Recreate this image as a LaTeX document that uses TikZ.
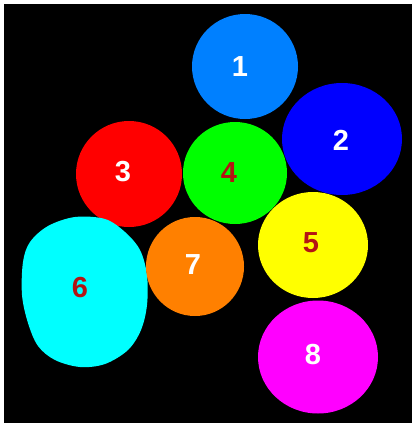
\documentclass[tikz,border=0pt]{standalone}
\usepackage{fontspec}
\setmainfont{Liberation Sans}
\usepackage{tikz}
\usetikzlibrary{shapes.geometric}
\usepackage{xcolor}
\definecolor{skyblue}{RGB}{0,128,255}
\definecolor{pureblue}{RGB}{0,0,255}
\definecolor{purered}{RGB}{255,0,0}
\definecolor{puregreen}{RGB}{0,255,0}
\definecolor{pureyellow}{RGB}{255,255,0}
\definecolor{purecyan}{RGB}{0,255,255}
\definecolor{pureorange}{RGB}{255,128,0}
\definecolor{puremagenta}{RGB}{255,0,255}
\definecolor{darkred}{RGB}{180,20,20}

\begin{document}
\begin{tikzpicture}[x=1pt, y=-1pt,
  blob/.style={ellipse, inner sep=0pt, draw=none},
  num/.style={font=\fontsize{29}{29}\selectfont\bfseries, white},
  dnum/.style={num, darkred}]
  \fill[white] (0,0) rectangle (414,426);
  \fill[black] (4,4) rectangle (412,423);
  % segmented blobs
  \node[blob, fill=skyblue, minimum width=106pt, minimum height=105pt] (b1) at (245,66.5) {};
  \node[blob, fill=pureblue, minimum width=120pt, minimum height=112pt] (b2) at (342,139) {};
  \node[blob, fill=purered, minimum width=106pt, minimum height=106pt] (b3) at (129,174) {};
  \node[blob, fill=puregreen, minimum width=104pt, minimum height=102pt] (b4) at (235,173) {};
  \node[blob, fill=pureyellow, minimum width=110pt, minimum height=106pt] (b5) at (313,245) {};
  \fill[purecyan] plot[smooth cycle, tension=0.55] coordinates {
    (75,217) (105,219) (125,232) (140,250) (147,275) (147,305) (141,330)
    (128,350) (105,364) (80,367) (55,360) (38,346) (28,323) (22,295)
    (23,262) (30,242) (48,226)};
  \node[blob, fill=pureorange, minimum width=98pt, minimum height=99pt] (b7) at (195,266.5) {};
  \node[blob, fill=puremagenta, minimum width=120pt, minimum height=113pt] (b8) at (318,357) {};
  % labels
  \node[num] (n1) at (240,67) {1};
  \node[num] (n2) at (341,140) {2};
  \node[num] (n3) at (123,172) {3};
  \node[dnum] (n4) at (229,173) {4};
  \node[dnum] (n5) at (311,243) {5};
  \node[dnum] (n6) at (80,288) {6};
  \node[num] (n7) at (193,265) {7};
  \node[num] (n8) at (313,355) {8};
\end{tikzpicture}
\end{document}
